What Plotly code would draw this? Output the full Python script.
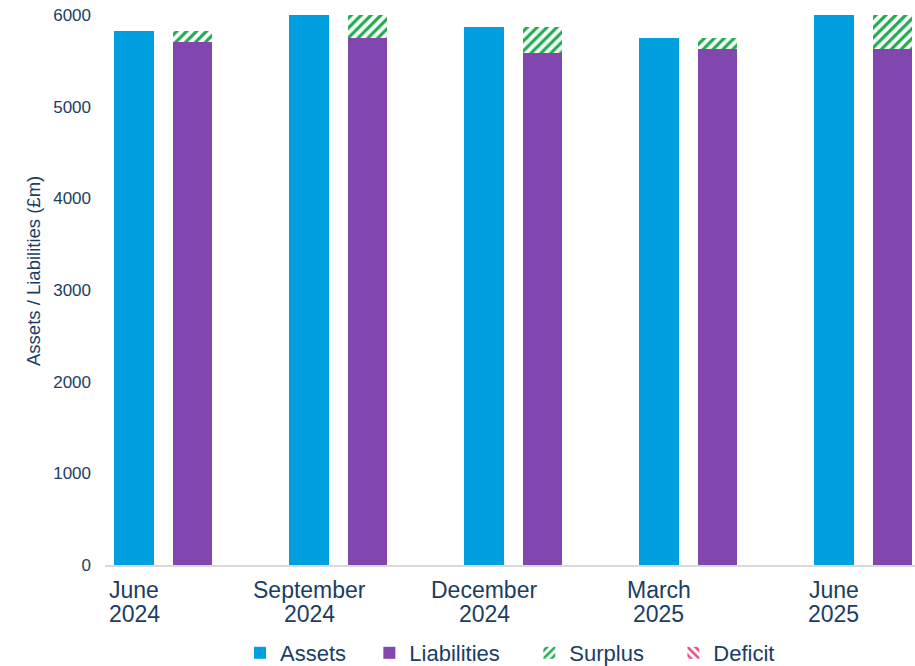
import plotly.graph_objects as go

# Quarter-end funding position (£m)
months = ["June", "September", "December", "March", "June"]
years = ["2024", "2024", "2024", "2025", "2025"]
assets = [5830, 6005, 5870, 5750, 6000]
liabilities = [5710, 5750, 5590, 5630, 5625]
surplus = [120, 255, 280, 120, 375]
deficit = [0, 0, 0, 0, 0]
y_ticks = [0, 1000, 2000, 3000, 4000, 5000, 6000]

TEXT = "#1B3D63"
FONT = "Liberation Sans, Arial, sans-serif"
BAR_W = 0.223
PAIR_OFFSET = 0.334
NB = "\u00a0"

# plot area: 105..915 px horizontally, 4..565 px vertically
PLOT_H = 561.0


def py(px_from_bottom):
    """Paper y for a pixel row measured relative to the plot bottom."""
    return px_from_bottom / PLOT_H


idx = list(range(len(months)))
x_assets = [i for i in idx]
x_liab = [i + PAIR_OFFSET for i in idx]

fig = go.Figure()
fig.add_trace(go.Bar(
    x=x_assets, y=assets, name="Assets" + NB * 3, width=BAR_W,
    marker=dict(color="#009FDF", line=dict(width=0)),
))
fig.add_trace(go.Bar(
    x=x_liab, y=liabilities, name="Liabilities" + NB * 4, width=BAR_W,
    marker=dict(color="#8246AF", line=dict(width=0)),
))
fig.add_trace(go.Bar(
    x=x_liab, y=surplus, name="Surplus" + NB * 4, width=BAR_W,
    marker=dict(color="white", line=dict(width=0),
                pattern=dict(shape="/", fgcolor="#1DAA4E", bgcolor="white",
                             size=7, solidity=0.45, fillmode="replace")),
))
fig.add_trace(go.Bar(
    x=x_liab, y=deficit, name="Deficit", width=BAR_W,
    marker=dict(color="white", line=dict(width=0),
                pattern=dict(shape="\\", fgcolor="#E8457F", bgcolor="white",
                             size=7, solidity=0.45, fillmode="replace")),
))

annotations = [dict(
    text="Assets / Liabilities (£m)", textangle=-90,
    xref="paper", yref="paper", x=-0.0889, y=py(565 - 271),
    xanchor="center", yanchor="middle", showarrow=False,
    font=dict(size=18.5, color=TEXT),
)]
# two-line category labels under each pair of bars
for i, (m, yr) in enumerate(zip(months, years)):
    annotations.append(dict(
        text=m, x=x_assets[i], xref="x", y=py(565 - 590), yref="paper",
        xanchor="center", yanchor="middle", showarrow=False,
        font=dict(size=23, color=TEXT),
    ))
    annotations.append(dict(
        text=yr, x=x_assets[i], xref="x", y=py(565 - 614), yref="paper",
        xanchor="center", yanchor="middle", showarrow=False,
        font=dict(size=23, color=TEXT),
    ))

fig.update_layout(
    barmode="stack",
    width=915, height=666,
    margin=dict(l=105, r=0, t=4, b=101, autoexpand=False),
    paper_bgcolor="white", plot_bgcolor="white",
    font=dict(family=FONT, color=TEXT, size=16),
    showlegend=True,
    legend=dict(
        orientation="h", x=0.5, xanchor="center", y=py(565 - 653), yanchor="middle",
        font=dict(size=22, color=TEXT), traceorder="normal",
    ),
    xaxis=dict(
        range=[-0.1657, 4.4629],
        tickvals=x_assets, showticklabels=False,
        showgrid=False, zeroline=False, automargin=False,
        showline=True, linecolor="#D9D9D9", linewidth=1.5,
        ticks="",
    ),
    yaxis=dict(
        range=[0, 6120],
        tickmode="array", tickvals=y_ticks,
        tickfont=dict(size=17, color=TEXT),
        showgrid=False, zeroline=False, showline=False, automargin=False,
        ticks="", ticklabelstandoff=13,
    ),
    annotations=annotations,
)

fig.write_html("out.html")
